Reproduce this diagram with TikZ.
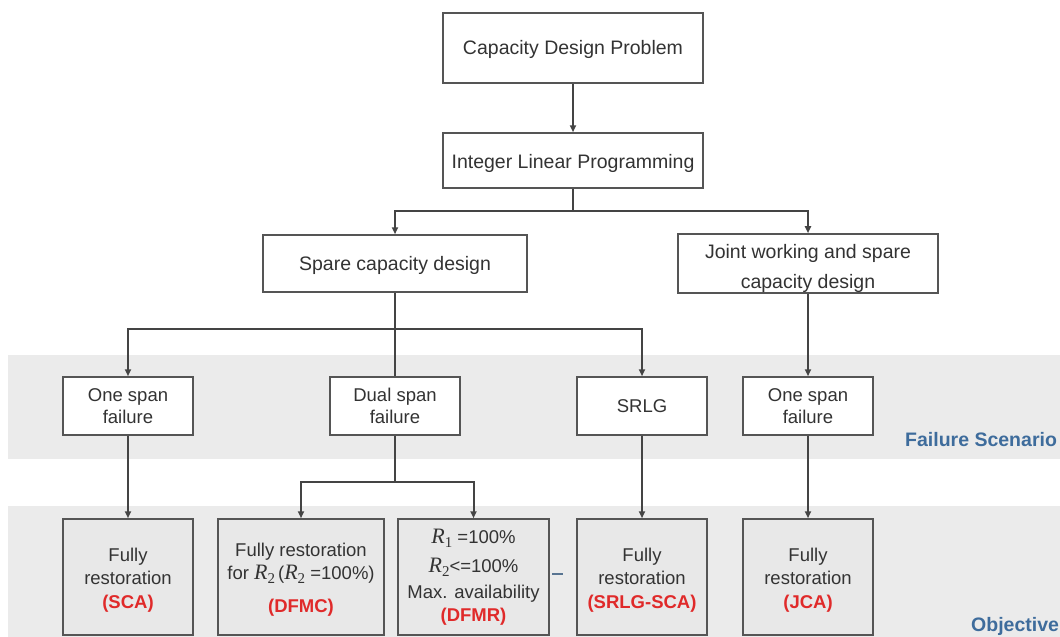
\documentclass[tikz,border=0pt]{standalone}
\usepackage{fontspec}
\setmainfont{Liberation Sans}
\newfontfamily\rfont{Liberation Serif}
\usetikzlibrary{arrows.meta}
\definecolor{txt}{HTML}{333333}
\definecolor{edge}{HTML}{555555}
\definecolor{wirec}{HTML}{444444}
\definecolor{band}{HTML}{EBEBEB}
\definecolor{objfill}{HTML}{E8E8E8}
\definecolor{code}{HTML}{E02A2A}
\definecolor{tag}{HTML}{3E6C9C}
\newcommand{\acr}[1]{{\color{code}\bfseries #1}}
% italic serif R with a lowered serif index
\newcommand{\bigR}[1]{{\fontsize{22}{22}\selectfont\rfont\itshape R}\raisebox{-4pt}{\fontsize{15}{15}\selectfont\rfont #1}}
% invisible strut that lowers the first line of a box
\newcommand{\firstdrop}[1]{\rule{0pt}{#1}}
\tikzset{
  box/.style={draw=edge, line width=1.5pt, fill=white, text=txt, align=center,
    inner sep=0pt, font=\fontsize{18.5}{22}\selectfont},
  topbox/.style={box, font=\fontsize{19.5}{30}\selectfont},
  objbox/.style={box, fill=objfill, minimum width=130pt, minimum height=116pt,
    font=\fontsize{18.5}{23.5}\selectfont},
  failbox/.style={box, minimum width=130pt, minimum height=58pt},
  wire/.style={draw=wirec, line width=2pt},
  arr/.style={wire, -{Triangle[length=7pt,width=6pt]}},
  tagtext/.style={text=tag, font=\fontsize{19.5}{22}\selectfont\bfseries, inner sep=0pt, anchor=west}
}
\begin{document}
\begin{tikzpicture}[x=1pt,y=-1pt]
\useasboundingbox (0,0) rectangle (1060,637);
% shaded rows
\fill[band] (8,355) rectangle (1060,459);
\fill[band] (8,506) rectangle (1060,637);

% upper levels
\node[topbox, minimum width=260pt, minimum height=70pt] (cdp) at (573,48) {\firstdrop{17pt}Capacity Design Problem};
\node[topbox, minimum width=260pt, minimum height=55pt] (ilp) at (573,160.5) {\firstdrop{20pt}Integer Linear Programming};
\node[topbox, minimum width=264pt, minimum height=57pt] (scd) at (395,263.5) {\firstdrop{18pt}Spare capacity design};
\node[topbox, minimum width=260pt, minimum height=57pt] (jws) at (808,263.5) {\firstdrop{25pt}Joint working and spare\\capacity design};

% failure scenarios
\node[failbox] (osf1) at (128,406) {One span\\failure};
\node[failbox] (dsf) at (395,406) {Dual span\\failure};
\node[failbox] (srlg) at (642,406) {SRLG};
\node[failbox] (osf2) at (808,406) {One span\\failure};

% objectives
\node[objbox] (sca) at (128,577) {\firstdrop{19pt}Fully\\restoration\\\acr{(SCA)}};
\node[objbox, minimum width=166pt] (dfmc) at (301,577) {\firstdrop{18pt}Fully restoration\\for \bigR{2}\,(\bigR{2} =100\%)\\[9pt]\acr{(DFMC)}};
\node[objbox, minimum width=151pt] (dfmr) at (473.5,577) {\bigR{1} =100\%\\[6pt]\bigR{2}<=100\%\\[2pt]Max. availability\\\acr{(DFMR)}};
\node[objbox] (srlgsca) at (642,577) {\firstdrop{19pt}Fully\\restoration\\\acr{(SRLG-SCA)}};
\node[objbox] (jca) at (808,577) {\firstdrop{19pt}Fully\\restoration\\\acr{(JCA)}};

% row labels
\node[tagtext] (fs) at (905,440) {Failure Scenario};
\node[tagtext] (ob) at (971,626) {Objective};

% branch points
\coordinate (jA) at (573,211);
\coordinate (jB) at (395,329);
\coordinate (jC) at (395,482);

% connectors
\draw[arr] (cdp.south) -- (ilp.north);
\draw[wire] (ilp.south) -- (jA);
\draw[arr] (jA) -| (scd.north);
\draw[arr] (jA) -| (jws.north);
\draw[wire] (scd.south) -- (dsf.north);
\draw[arr] (jB) -| (osf1.north);
\draw[arr] (jB) -| (srlg.north);
\draw[arr] (jws.south) -- (osf2.north);
\draw[arr] (osf1.south) -- (sca.north);
\draw[wire] (dsf.south) -- (jC);
\draw[arr] (jC) -| (dfmc.north);
\draw[arr] (jC) -| (dfmr.north);
\draw[arr] (srlg.south) -- (srlgsca.north);
\draw[arr] (osf2.south) -- (jca.north);

% small stray mark between the objective boxes
\draw[color=tag!60!gray, line width=1.2pt] (552,574) -- (563,574);
\end{tikzpicture}
\end{document}
